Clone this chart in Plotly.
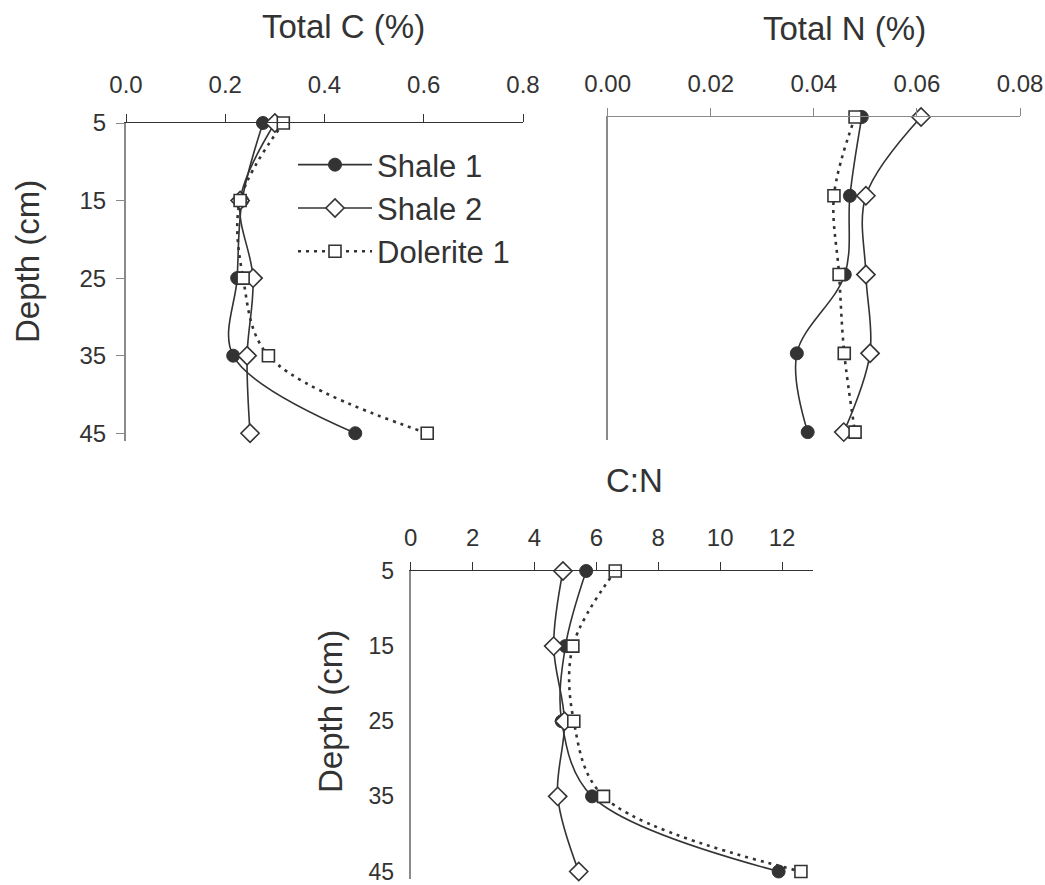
import plotly.graph_objects as go

# Sampling depths (cm) shared by all three profiles
depth = [5, 15, 25, 35, 45]

# Total carbon (%)
total_c_shale1 = [0.276, 0.234, 0.224, 0.216, 0.462]
total_c_shale2 = [0.300, 0.230, 0.256, 0.244, 0.250]
total_c_dolerite1 = [0.317, 0.230, 0.236, 0.287, 0.607]

# Total nitrogen (%)
total_n_shale1 = [0.0493, 0.0470, 0.0460, 0.0367, 0.0388]
total_n_shale2 = [0.0608, 0.0501, 0.0501, 0.0509, 0.0458]
total_n_dolerite1 = [0.0480, 0.0439, 0.0449, 0.0459, 0.0480]

# Carbon to nitrogen ratio
cn_shale1 = [5.67, 5.00, 4.88, 5.86, 11.89]
cn_shale2 = [4.92, 4.62, 4.97, 4.75, 5.43]
cn_dolerite1 = [6.61, 5.24, 5.27, 6.23, 12.61]

series_names = ["Shale 1", "Shale 2", "Dolerite 1"]

INK = "#333333"
AXIS_GREY = "#8a8a8a"
FONT = "Liberation Sans, Arial, sans-serif"
W, H = 1045, 885

styles = [
    dict(line=dict(color=INK, width=1.6, shape="spline", smoothing=1.0),
         marker=dict(symbol="circle", size=13, color=INK, line=dict(color=INK, width=1))),
    dict(line=dict(color=INK, width=1.6, shape="spline", smoothing=1.0),
         marker=dict(symbol="diamond", size=14, color="white", line=dict(color=INK, width=1.6))),
    dict(line=dict(color=INK, width=2.6, dash="3px,5px", shape="spline", smoothing=1.0),
         marker=dict(symbol="square", size=12, color="white", line=dict(color=INK, width=1.6))),
]

panels = [
    ("x", "y", [total_c_shale1, total_c_shale2, total_c_dolerite1]),
    ("x2", "y2", [total_n_shale1, total_n_shale2, total_n_dolerite1]),
    ("x3", "y3", [cn_shale1, cn_shale2, cn_dolerite1]),
]

fig = go.Figure()
for p, (xa, ya, series) in enumerate(panels):
    for name, values, st in zip(series_names, series, styles):
        fig.add_trace(go.Scatter(
            x=values, y=depth, name=name, mode="lines+markers",
            xaxis=xa, yaxis=ya, cliponaxis=False,
            showlegend=(p == 0), **st,
        ))


def px_x(v):
    return v / W


def px_y(v):
    return 1 - v / H


tick_font = dict(family=FONT, size=24, color=INK)

common_x = dict(side="top", ticks="outside", ticklen=8, tickcolor=INK, tickwidth=1,
                showline=True, linecolor=INK, linewidth=1, showgrid=False,
                zeroline=False, tickfont=tick_font, automargin=False,
                ticklabeloverflow="allow")
common_y = dict(autorange=False, showline=True, linecolor=AXIS_GREY, linewidth=2,
                showgrid=False, zeroline=False, tickfont=tick_font, tickvals=depth,
                automargin=False, ticklabeloverflow="allow")

fig.update_layout(
    width=W, height=H,
    margin=dict(l=0, r=0, t=0, b=0),
    paper_bgcolor="white", plot_bgcolor="white",
    font=dict(family=FONT, color=INK),
    xaxis=dict(domain=[px_x(126), px_x(523)], range=[0, 0.8], anchor="y",
               tickvals=[0, 0.2, 0.4, 0.6, 0.8], tickformat=".1f",
               ticklabelstandoff=11, **common_x),
    yaxis=dict(domain=[px_y(441), px_y(123)], range=[46, 5], anchor="x",
               ticks="outside", ticklen=8, tickcolor=AXIS_GREY, ticklabelstandoff=5, **common_y),
    xaxis2=dict(domain=[px_x(607.7), px_x(1020)], range=[0, 0.08], anchor="y2",
                tickvals=[0, 0.02, 0.04, 0.06, 0.08], tickformat=".2f", ticklabelstandoff=6,
                **{**common_x, "linecolor": AXIS_GREY, "tickcolor": AXIS_GREY}),
    yaxis2=dict(domain=[px_y(440), px_y(117)], range=[46, 5], anchor="x2",
                ticks="", showticklabels=False, **common_y),
    xaxis3=dict(domain=[px_x(410.7), px_x(813)], range=[0, 13], anchor="y3",
                tickvals=[0, 2, 4, 6, 8, 10, 12], ticklabelstandoff=6, **common_x),
    yaxis3=dict(domain=[px_y(879), px_y(571)], range=[46, 5], anchor="x3",
                ticks="", ticklabelstandoff=10,
                **{**common_y, "tickfont": dict(family=FONT, size=23, color=INK)}),
    legend=dict(x=px_x(293), y=px_y(138), xanchor="left", yanchor="top",
                bgcolor="rgba(0,0,0,0)", font=dict(family=FONT, size=31, color=INK),
                itemwidth=74, tracegroupgap=0),
)

title_font = dict(family=FONT, size=33, color=INK)
annotations = [
    dict(text="Total C (%)", x=px_x(343.5), y=px_y(27)),
    dict(text="Total N (%)", x=px_x(844), y=px_y(29)),
    dict(text="C:N", x=px_x(634.7), y=px_y(480)),
    dict(text="Depth (cm)", x=px_x(27), y=px_y(262), textangle=-90),
    dict(text="Depth (cm)", x=px_x(330), y=px_y(712), textangle=-90),
]
for a in annotations:
    fig.add_annotation(xref="paper", yref="paper", showarrow=False,
                       xanchor="center", yanchor="middle", font=title_font, **a)

fig.write_html("out.html")
